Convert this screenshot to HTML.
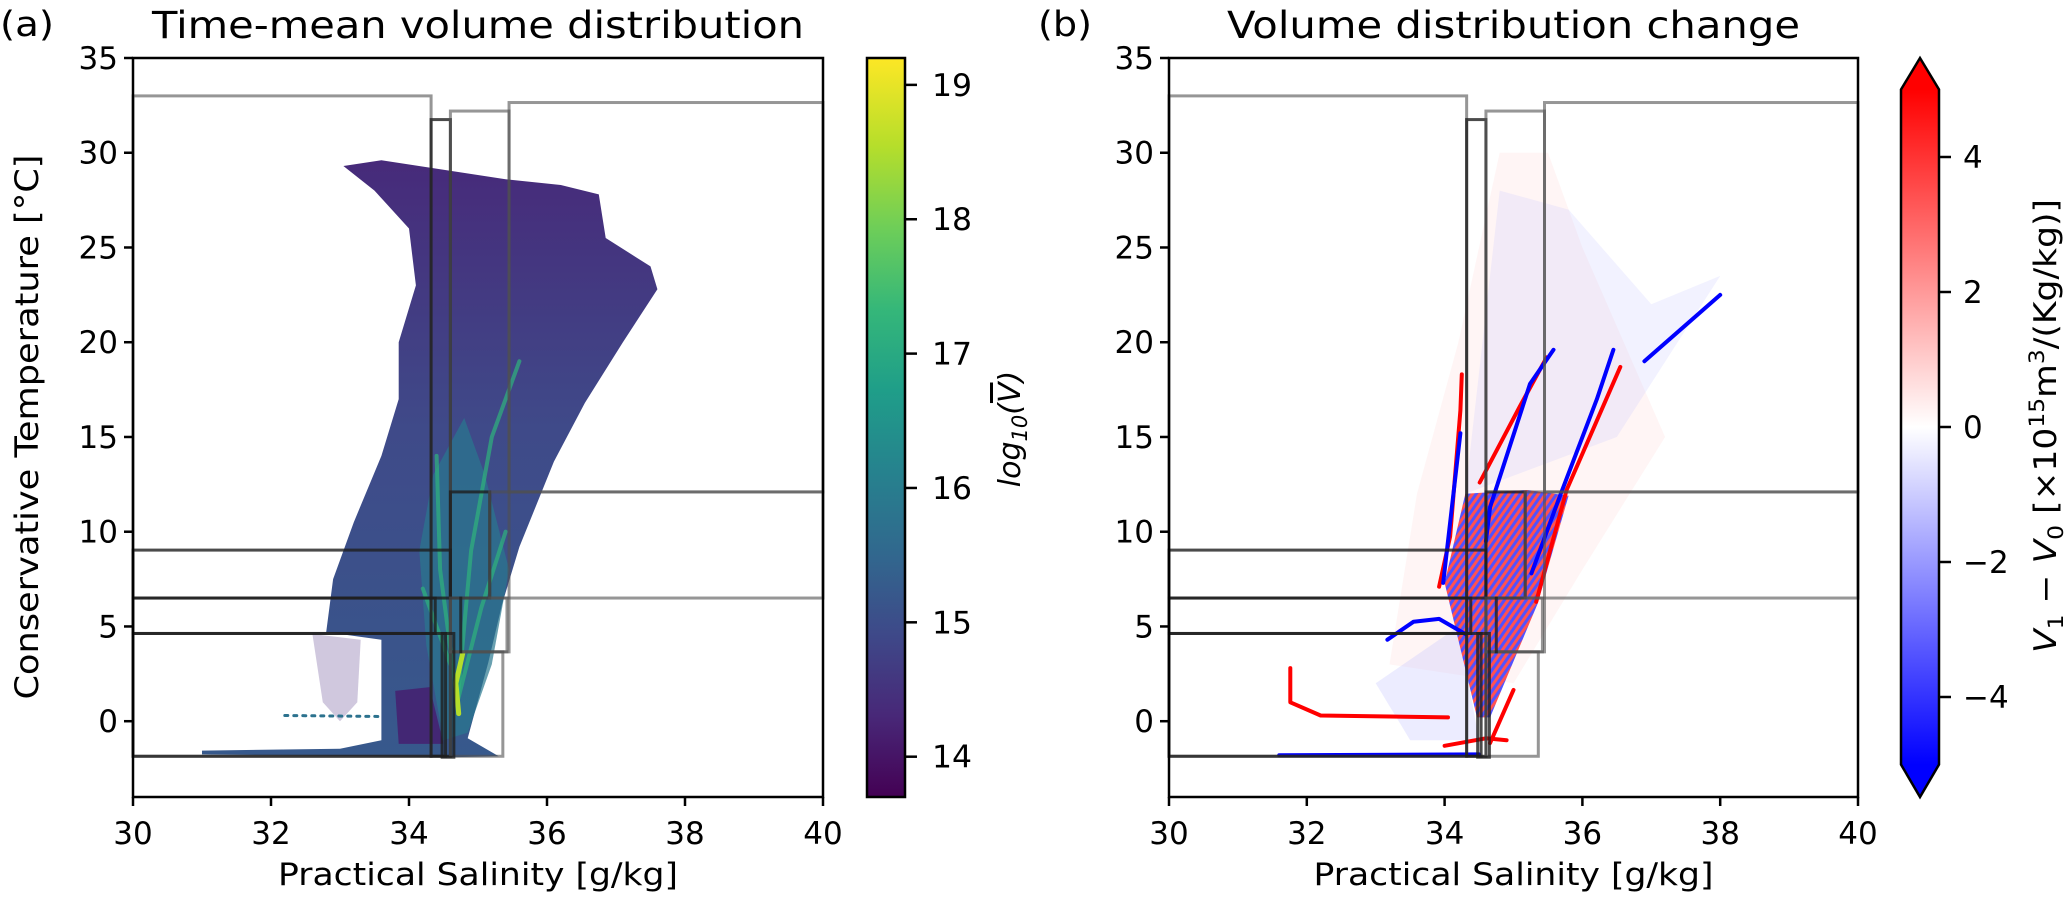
<!DOCTYPE html>
<html><head><meta charset="utf-8"><style>
html,body{margin:0;padding:0;background:#fff;}
svg{display:block;font-family:"DejaVu Sans","Liberation Sans",sans-serif;}
</style></head><body>
<svg id="fig" width="2067" height="903" viewBox="0 0 2067 903" xmlns="http://www.w3.org/2000/svg">
<defs>
<linearGradient id="viridis" x1="0" y1="1" x2="0" y2="0">
<stop offset="0" stop-color="#440154"/><stop offset=".11" stop-color="#482878"/><stop offset=".22" stop-color="#3e4989"/><stop offset=".33" stop-color="#31688e"/><stop offset=".44" stop-color="#26828e"/><stop offset=".55" stop-color="#1f9e89"/><stop offset=".66" stop-color="#35b779"/><stop offset=".77" stop-color="#6ece58"/><stop offset=".88" stop-color="#b5de2b"/><stop offset="1" stop-color="#fde725"/>
</linearGradient>
<linearGradient id="bwr" x1="0" y1="1" x2="0" y2="0">
<stop offset="0" stop-color="#0000ff"/><stop offset=".5" stop-color="#ffffff"/><stop offset="1" stop-color="#ff0000"/>
</linearGradient>
<linearGradient id="bodyGrad" x1="0" y1="0" x2="0" y2="1">
<stop offset="0" stop-color="#472a7a"/><stop offset=".45" stop-color="#3f4a89"/><stop offset="1" stop-color="#37598c"/>
</linearGradient>
<pattern id="hatch" width="6" height="6" patternUnits="userSpaceOnUse" patternTransform="rotate(35)">
<rect width="3" height="6" fill="#ff1a1a"/><rect x="3" width="3" height="6" fill="#1a1aff"/>
</pattern>
</defs>
<g id="pa"></g>
<g id="pb"></g>
</svg>
<script>
// ---- data ----
const xTicks = [30, 32, 34, 36, 38, 40];
const yTicks = [0, 5, 10, 15, 20, 25, 30, 35];
const cbaTicks = [14, 15, 16, 17, 18, 19];
const cbbTicks = [-4, -2, 0, 2, 4];
const boxes = [
 [30, 34.32, -1.85, 33.0, 'gray'],
 [34.32, 34.6, -1.85, 31.75, 'dark'],
 [34.6, 35.45, 3.66, 32.2, 'gray'],
 [35.45, 40, 12.1, 32.65, 'gray'],
 [34.6, 35.17, 6.5, 12.1, 'dark'],
 [35.17, 40, 6.5, 12.1, 'gray'],
 [30, 34.6, 6.5, 9.03, 'dark'],
 [30, 34.38, 4.63, 6.5, 'dark'],
 [30, 34.53, -1.85, 4.63, 'dark'],
 [34.6, 35.42, 3.66, 6.5, 'gray'],
 [34.6, 35.36, -1.85, 3.66, 'gray'],
 [34.48, 34.65, -1.9, 4.63, 'dark'],
 [34.75, 34.75, 3.66, 6.5, 'dark']
];
const bodyOutline = [[33.05,29.3],[33.6,29.6],[34.5,29.1],[35.4,28.6],[36.2,28.3],[36.75,27.8],[36.85,25.5],[37.5,24],[37.6,22.8],[37.1,20],[36.55,16.8],[36.1,13.7],[35.6,9.2],[35.35,6.2],[35.15,3.1],[34.85,-0.9],[35.3,-1.85],[34.6,-1.9],[31,-1.75],[31,-1.55],[33,-1.45],[33.6,-1.0],[33.6,4.3],[32.8,4.7],[32.9,7.5],[33.2,10.5],[33.6,14],[33.85,17],[33.85,20],[34.1,23],[34.0,26],[33.5,28]];
const lobeOutline = [[32.6,4.6],[32.75,1],[33.0,0],[33.25,1],[33.3,4.3]];
const coreOutline = [[34.5,-1],[34.25,4],[34.15,9],[34.35,13],[34.8,16],[35.1,13],[35.45,8],[35.2,3],[34.85,-0.6]];
const darkBlob = [[33.85,-1.2],[33.8,1.6],[34.3,1.8],[34.5,-1.2]];
const greenStreaks = [
 [[34.7,1],[34.45,8],[34.4,14]],
 [[34.7,1],[35.05,6],[35.4,10]],
 [[34.7,1],[34.9,9],[35.2,15],[35.6,19]],
 [[34.6,3],[34.2,7]]
];
const yellowStreak = [[34.72,0.4],[34.68,2],[34.78,3.6]];
const dotLine = [[32.2,0.3],[33.6,0.25]];
const pinkFaint = [[33.2,3],[33.6,12],[34.2,20],[34.8,30],[35.5,30],[36,25],[37.2,15],[36,8],[35,2]];
const blueFaint = [[34.3,12],[34.8,28],[35.8,27],[37,22],[38,23.5],[36.5,15]];
const blueFaintLow = [[33,2],[34.2,5],[34.5,-1],[33.5,-1]];
const coreHatch = [[34.47,0.2],[34.0,7.3],[34.3,12],[35.2,12.2],[35.8,11.9],[35.35,6.2],[34.66,0.2]];
const redStreaks = [
 [[33.92,7.1],[34.08,9.74],[34.23,16.4],[34.25,18.3]],
 [[35.33,6.3],[35.77,12.2],[36.55,18.7]],
 [[34.51,12.6],[35.09,16.6],[35.48,19.2]],
 [[35.0,1.65],[34.66,-1.15]],
 [[31.76,2.8],[31.76,1.0],[32.2,0.3],[34.05,0.2]],
 [[34.0,-1.3],[34.6,-0.9],[34.9,-1.0]]
];
const blueStreaks = [
 [[34.6,9.5],[34.66,11.3],[35.24,17.8],[35.58,19.6]],
 [[35.26,7.8],[35.67,11.85],[36.21,17.0],[36.45,19.6]],
 [[33.98,7.3],[34.23,15.2]],
 [[33.17,4.3],[33.55,5.25],[33.92,5.4],[34.3,4.6]],
 [[31.6,-1.8],[34.5,-1.75]],
 [[36.9,19],[38,22.5]]
];

// ---- helpers ----
const NS = 'http://www.w3.org/2000/svg';
function mk(parent, tag, attrs) {
  const e = document.createElementNS(NS, tag);
  for (const k in attrs) e.setAttribute(k, attrs[k]);
  parent.appendChild(e);
  return e;
}
function axes(left, right, top, bottom) {
  return {
    x: s => left + (s - 30) / 10 * (right - left),
    y: t => top + (35 - t) / 39 * (bottom - top),
    left, right, top, bottom
  };
}
function pts(ax, arr) { return arr.map(p => ax.x(p[0]).toFixed(1) + ',' + ax.y(p[1]).toFixed(1)).join(' '); }

function drawFrame(g, ax, title, label, titleW, ylab) {
  let e;
  e = mk(g, 'rect', {x: ax.left, y: ax.top, width: ax.right - ax.left, height: ax.bottom - ax.top, fill: 'none', stroke: '#000', 'stroke-width': 2.5});
   
  xTicks.forEach(v => {
    const x = ax.x(v);
    e = mk(g, 'line', {x1: x, x2: x, y1: ax.bottom, y2: ax.bottom + 9, stroke: '#000', 'stroke-width': 2.5});
     
    e = mk(g, 'text', {x: x, y: ax.bottom + 47, 'font-size': 31, 'text-anchor': 'middle'});
    e.textContent = v;
     
  });
  yTicks.forEach(v => {
    const y = ax.y(v);
    e = mk(g, 'line', {x1: ax.left - 9, x2: ax.left, y1: y, y2: y, stroke: '#000', 'stroke-width': 2.5});
     
    e = mk(g, 'text', {x: ax.left - 15, y: y + 11, 'font-size': 31, 'text-anchor': 'end'});
    e.textContent = v;
     
  });
  const cx = (ax.left + ax.right) / 2;
  e = mk(g, 'text', {x: cx, y: 885, 'font-size': 31, 'text-anchor': 'middle', textLength: 400, lengthAdjust: 'spacingAndGlyphs'});
  e.textContent = 'Practical Salinity [g/kg]';
   
  e = mk(g, 'text', {x: cx, y: 38, 'font-size': 37, 'text-anchor': 'middle', textLength: titleW, lengthAdjust: 'spacingAndGlyphs'});
  e.textContent = title;
   
  e = mk(g, 'text', {x: label[1], y: 36, 'font-size': 35, textLength: 54, lengthAdjust: 'spacingAndGlyphs'});
  e.textContent = label[0];
   
  if (ylab) {
    e = mk(g, 'text', {x: 0, y: 0, 'font-size': 32, 'text-anchor': 'middle', textLength: 545, lengthAdjust: 'spacingAndGlyphs', transform: 'translate(38,427) rotate(-90)'});
    e.textContent = 'Conservative Temperature [°C]';
     
  }
}
function drawBoxes(g, ax) {
  boxes.forEach(b => {
    const e = mk(g, 'rect', {x: ax.x(b[0]), y: ax.y(b[3]), width: Math.max(0.01, ax.x(b[1]) - ax.x(b[0])), height: ax.y(b[2]) - ax.y(b[3]), fill: 'none', stroke: b[4] === 'dark' ? 'rgba(30,30,30,0.8)' : 'rgba(80,80,80,0.6)', 'stroke-width': 3});
     
  });
}
function poly(g, ax, arr, attrs, name) {
  const e = mk(g, 'polygon', Object.assign({points: pts(ax, arr)}, attrs));
   
  return e;
}
function pline(g, ax, arr, attrs, name) {
  const e = mk(g, 'polyline', Object.assign({points: pts(ax, arr), fill: 'none', 'stroke-linecap': 'round', 'stroke-linejoin': 'round'}, attrs));
   
  return e;
}

// ---- panel a ----
const ga = document.getElementById('pa');
const A = axes(133, 823, 58, 797);
poly(ga, A, bodyOutline, {fill: 'url(#bodyGrad)'}, 'volume-distribution');
poly(ga, A, lobeOutline, {fill: '#45237a', opacity: 0.25}, 'scatter-lobe');
poly(ga, A, coreOutline, {fill: '#2a788e', opacity: 0.7}, 'core-density');
poly(ga, A, darkBlob, {fill: '#461b6e', opacity: 0.8}, 'dense-low-region');
greenStreaks.forEach(s => pline(ga, A, s, {stroke: '#2fb47c', 'stroke-width': 4, opacity: 0.7}, 'density-streak'));
pline(ga, A, yellowStreak, {stroke: '#b5de2b', 'stroke-width': 5}, 'peak-streak');
pline(ga, A, dotLine, {stroke: '#2c728e', 'stroke-width': 3, 'stroke-dasharray': '3 6'}, 'dotted-streak');
drawBoxes(ga, A);
drawFrame(ga, A, 'Time-mean volume distribution', ['(a)', 0], 652, true);

// colorbar a
(function(){
  const top = 58, bot = 797, l = 867, r = 905, vmin = 13.7, vmax = 19.2;
  const cy = v => bot - (v - vmin) / (vmax - vmin) * (bot - top);
  let e = mk(ga, 'rect', {x: l, y: top, width: r - l, height: bot - top, fill: 'url(#viridis)', stroke: '#000', 'stroke-width': 2.5});
   
  cbaTicks.forEach(v => {
    e = mk(ga, 'line', {x1: r, x2: r + 12, y1: cy(v), y2: cy(v), stroke: '#000', 'stroke-width': 2.5});
     
    e = mk(ga, 'text', {x: r + 27, y: cy(v) + 11, 'font-size': 31, textLength: 40, lengthAdjust: 'spacingAndGlyphs'});
    e.textContent = v;
     
  });
  e = mk(ga, 'text', {x: 0, y: 0, 'font-size': 30, 'font-style': 'italic', 'text-anchor': 'middle', transform: 'translate(1020,429) rotate(-90)'});
  e.innerHTML = 'log<tspan font-size="21" dy="7">10</tspan><tspan dy="-7">(</tspan><tspan text-decoration="overline">V</tspan>)';
   
})();

// ---- panel b ----
const gb = document.getElementById('pb');
const B = axes(1169, 1858, 58, 797);
poly(gb, B, pinkFaint, {fill: '#ffcccc', opacity: 0.2}, 'faint-increase');
poly(gb, B, blueFaint, {fill: '#ccccff', opacity: 0.25}, 'faint-decrease');
poly(gb, B, blueFaintLow, {fill: '#c8c8ff', opacity: 0.35}, 'faint-decrease-low');
poly(gb, B, coreHatch, {fill: 'url(#hatch)', opacity: 0.75}, 'core-change');
redStreaks.forEach(s => pline(gb, B, s, {stroke: '#ff0000', 'stroke-width': 4}, 'increase-streak'));
blueStreaks.forEach(s => pline(gb, B, s, {stroke: '#0000ff', 'stroke-width': 4}, 'decrease-streak'));
drawBoxes(gb, B);
drawFrame(gb, B, 'Volume distribution change', ['(b)', 1038], 573, false);

// colorbar b
(function(){
  const l = 1901, r = 1939, vmin = -5, vmax = 5, top = 89.5, bot = 764.5;
  const cy = v => bot - (v - vmin) / (vmax - vmin) * (bot - top);
  let e = mk(gb, 'rect', {x: l, y: top, width: r - l, height: bot - top, fill: 'url(#bwr)'});
   
  e = mk(gb, 'polygon', {points: `${l},${top} ${(l+r)/2},58 ${r},${top}`, fill: '#ff0000'});
   
  e = mk(gb, 'polygon', {points: `${l},${bot} ${(l+r)/2},797 ${r},${bot}`, fill: '#0000ff'});
   
  e = mk(gb, 'polygon', {points: `${l},${top} ${(l+r)/2},58 ${r},${top} ${r},${bot} ${(l+r)/2},797 ${l},${bot}`, fill: 'none', stroke: '#000', 'stroke-width': 2.5});
   
  cbbTicks.forEach(v => {
    e = mk(gb, 'line', {x1: r, x2: r + 12, y1: cy(v), y2: cy(v), stroke: '#000', 'stroke-width': 2.5});
     
    e = mk(gb, 'text', {x: r + 24, y: cy(v) + 11, 'font-size': 31});
    e.textContent = v < 0 ? '\u2212' + Math.abs(v) : String(v);
     
  });
  e = mk(gb, 'text', {x: 0, y: 0, 'font-size': 31, 'text-anchor': 'middle', textLength: 454, lengthAdjust: 'spacingAndGlyphs', transform: 'translate(2056,426) rotate(-90)'});
  e.innerHTML = '<tspan font-style="italic">V</tspan><tspan font-size="21" dy="7">1</tspan><tspan dy="-7"> \u2212 </tspan><tspan font-style="italic">V</tspan><tspan font-size="21" dy="7">0</tspan><tspan dy="-7"> [×10</tspan><tspan font-size="21" dy="-12">15</tspan><tspan dy="12">m</tspan><tspan font-size="21" dy="-12">3</tspan><tspan dy="12">/(Kg/kg)]</tspan>';
   
})();
</script>
</body></html>
